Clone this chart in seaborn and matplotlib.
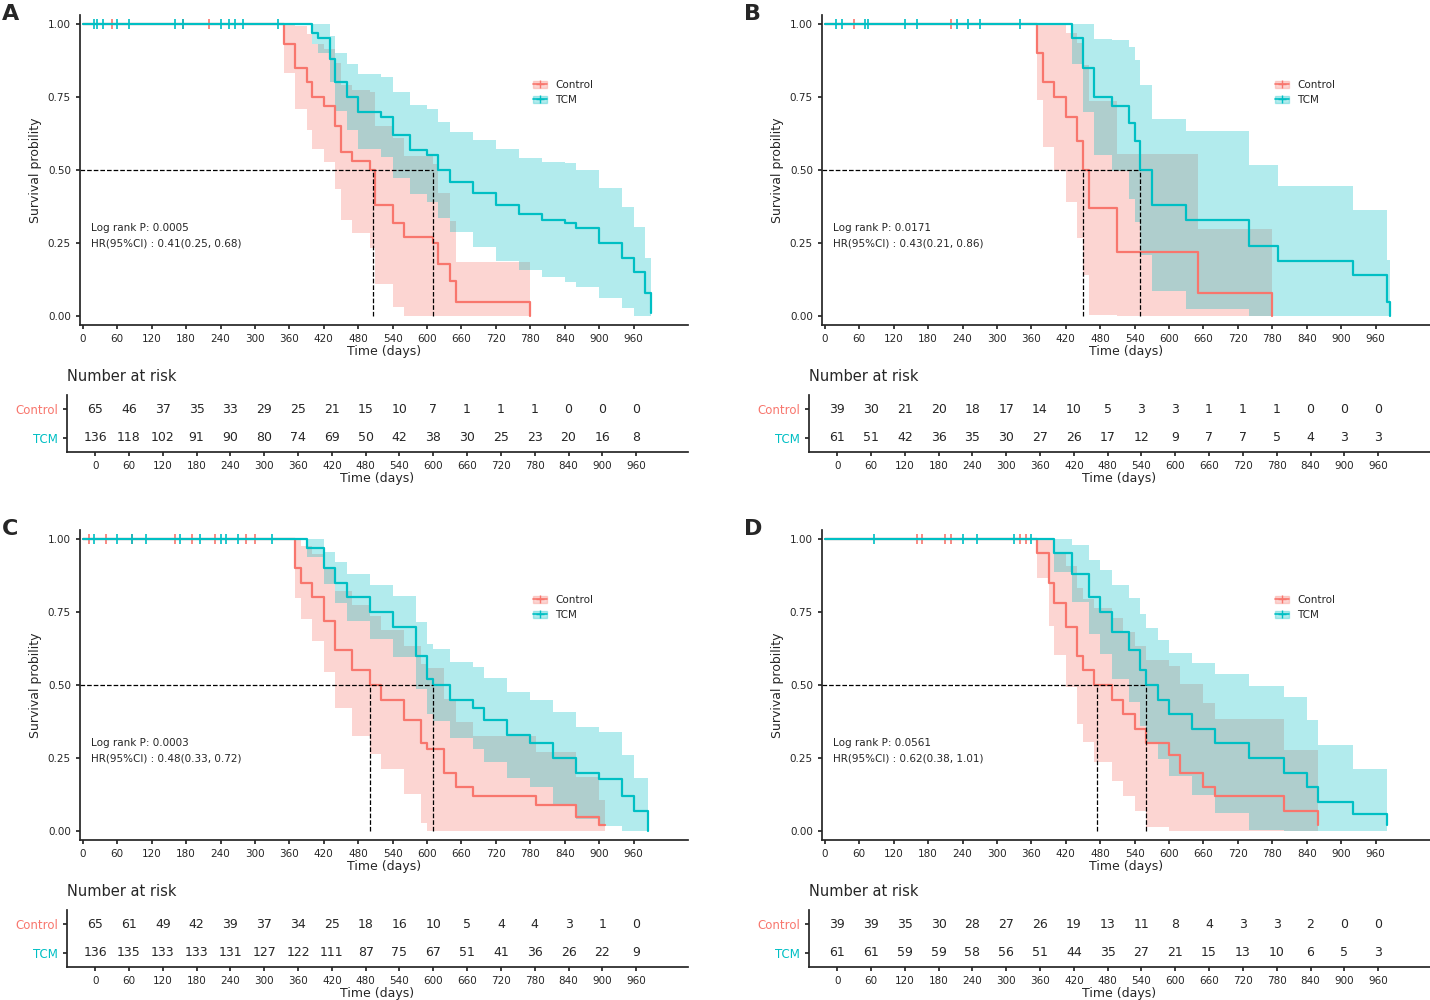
import numpy as np
import pandas as pd
import matplotlib
matplotlib.use("Agg")
import matplotlib.pyplot as plt
import seaborn as sns
from matplotlib.lines import Line2D
from matplotlib.patches import Patch

RED = "#F8766D"
TEAL = "#00BFC4"

risk_times = list(range(0, 961, 60))

# ---- panel data: step times and survival after each step ----
a_ctrl_t = [0, 350, 370, 390, 400, 420, 440, 450, 470, 500, 510, 540, 560, 610, 620, 640, 650, 780]
a_ctrl_s = [1, .93, .85, .80, .75, .72, .65, .56, .53, .50, .38, .32, .27, .25, .18, .12, .05, .00]
a_tcm_t = [0, 400, 410, 430, 440, 460, 480, 520, 540, 570, 600, 620, 640, 680, 720, 760, 800, 840, 860, 900, 940, 960, 980, 990]
a_tcm_s = [1, .97, .95, .88, .80, .75, .70, .68, .62, .57, .55, .50, .46, .42, .38, .35, .33, .32, .30, .25, .20, .15, .08, .01]
a_ctrl_cens = [50, 175, 220]
a_tcm_cens = [20, 25, 35, 60, 80, 160, 175, 240, 255, 265, 280, 340]
a_ctrl_risk = [65, 46, 37, 35, 33, 29, 25, 21, 15, 10, 7, 1, 1, 1, 0, 0, 0]
a_tcm_risk = [136, 118, 102, 91, 90, 80, 74, 69, 50, 42, 38, 30, 25, 23, 20, 16, 8]
a_med = (505, 610)
a_txt = ("Log rank P: 0.0005", "HR(95%CI) : 0.41(0.25, 0.68)")

b_ctrl_t = [0, 370, 380, 400, 420, 440, 450, 460, 510, 650, 780]
b_ctrl_s = [1, .90, .80, .75, .68, .60, .50, .37, .22, .08, .00]
b_tcm_t = [0, 430, 450, 470, 500, 530, 540, 550, 570, 630, 740, 790, 920, 980, 985]
b_tcm_s = [1, .95, .85, .75, .72, .66, .60, .50, .38, .33, .24, .19, .14, .05, .00]
b_ctrl_cens = [50, 220]
b_tcm_cens = [20, 30, 70, 75, 140, 160, 230, 250, 270, 340]
b_ctrl_risk = [39, 30, 21, 20, 18, 17, 14, 10, 5, 3, 3, 1, 1, 1, 0, 0, 0]
b_tcm_risk = [61, 51, 42, 36, 35, 30, 27, 26, 17, 12, 9, 7, 7, 5, 4, 3, 3]
b_med = (450, 550)
b_txt = ("Log rank P: 0.0171", "HR(95%CI) : 0.43(0.21, 0.86)")

c_ctrl_t = [0, 370, 380, 400, 420, 440, 470, 500, 520, 560, 590, 600, 630, 650, 680, 790, 860, 900, 910]
c_ctrl_s = [1, .90, .85, .80, .72, .62, .55, .50, .45, .38, .30, .28, .20, .15, .12, .09, .05, .02, .02]
c_tcm_t = [0, 390, 420, 440, 460, 500, 540, 580, 600, 610, 640, 680, 700, 740, 780, 820, 860, 900, 940, 960, 985]
c_tcm_s = [1, .97, .90, .85, .80, .75, .70, .60, .52, .50, .45, .42, .38, .33, .30, .25, .20, .18, .12, .07, .00]
c_ctrl_cens = [10, 40, 85, 160, 190, 230, 285, 300]
c_tcm_cens = [20, 60, 85, 110, 170, 205, 240, 250, 270, 330]
c_ctrl_risk = [65, 61, 49, 42, 39, 37, 34, 25, 18, 16, 10, 5, 4, 4, 3, 1, 0]
c_tcm_risk = [136, 135, 133, 133, 131, 127, 122, 111, 87, 75, 67, 51, 41, 36, 26, 22, 9]
c_med = (500, 610)
c_txt = ("Log rank P: 0.0003", "HR(95%CI) : 0.48(0.33, 0.72)")

d_ctrl_t = [0, 370, 390, 400, 420, 440, 450, 470, 500, 520, 540, 560, 600, 620, 660, 680, 800, 860]
d_ctrl_s = [1, .95, .85, .78, .70, .60, .55, .50, .45, .40, .35, .30, .26, .20, .15, .12, .07, .02]
d_tcm_t = [0, 400, 430, 460, 480, 500, 530, 550, 560, 580, 600, 640, 680, 740, 800, 840, 860, 920, 980]
d_tcm_s = [1, .95, .88, .80, .75, .68, .62, .55, .50, .45, .40, .35, .30, .25, .20, .15, .10, .06, .02]
d_ctrl_cens = [160, 170, 210, 220, 340, 350]
d_tcm_cens = [85, 240, 265, 330, 360]
d_ctrl_risk = [39, 39, 35, 30, 28, 27, 26, 19, 13, 11, 8, 4, 3, 3, 2, 0, 0]
d_tcm_risk = [61, 61, 59, 59, 58, 56, 51, 44, 35, 27, 21, 15, 13, 10, 6, 5, 3]
d_med = (475, 560)
d_txt = ("Log rank P: 0.0561", "HR(95%CI) : 0.62(0.38, 1.01)")

panels = [
    ("A", 0.0, 0.0, a_ctrl_t, a_ctrl_s, a_tcm_t, a_tcm_s, a_ctrl_cens, a_tcm_cens, a_ctrl_risk, a_tcm_risk, a_med, a_txt),
    ("B", 742, 0.0, b_ctrl_t, b_ctrl_s, b_tcm_t, b_tcm_s, b_ctrl_cens, b_tcm_cens, b_ctrl_risk, b_tcm_risk, b_med, b_txt),
    ("C", 0.0, 515, c_ctrl_t, c_ctrl_s, c_tcm_t, c_tcm_s, c_ctrl_cens, c_tcm_cens, c_ctrl_risk, c_tcm_risk, c_med, c_txt),
    ("D", 742, 515, d_ctrl_t, d_ctrl_s, d_tcm_t, d_tcm_s, d_ctrl_cens, d_tcm_cens, d_ctrl_risk, d_tcm_risk, d_med, d_txt),
]

sns.set_theme(style="ticks")
plt.rcParams["font.family"] = ["DejaVu Sans"]
fig = plt.figure(figsize=(14.3, 10), dpi=100)
W, H = 1430, 1000


def band(t, s, risk, n0):
    # approximate 95% CI from survival and number at risk
    n = np.maximum(np.interp(t, risk_times, risk), 2)
    n = np.maximum(n, n0 * 0.15)
    s = np.array(s)
    se = 1.96 * np.sqrt(s * (1 - s) / n)
    return np.clip(s - se, 0, 1), np.clip(s + se, 0, 1)


for (lab, dx, dy, ct, cs, tt, ts, cc, tc, cr, tr, med, txt) in panels:
    ax = fig.add_axes([(80 + dx) / W, 1 - (325 + dy) / H, 608 / W, 310 / H])
    for t, s, cens, risk, col in [(ct, cs, cc, cr, RED), (tt, ts, tc, tr, TEAL)]:
        lo, hi = band(t, s, risk, risk[0])
        ax.fill_between(t, lo, hi, step="post", color=col, alpha=0.3, lw=0)
        df = pd.DataFrame({"time": t, "surv": s})
        sns.lineplot(data=df, x="time", y="surv", ax=ax, color=col, lw=1.6,
                     drawstyle="steps-post", estimator=None, sort=False)
        ax.plot(cens, [1.0] * len(cens), ls="none", marker="+", color=col, ms=7, mew=1.2)
    ax.plot([-5, med[1]], [0.5, 0.5], ls="--", color="black", lw=0.9)
    for m in med:
        ax.plot([m, m], [0, 0.5], ls="--", color="black", lw=0.9)
    ax.text(15, 0.30, txt[0], fontsize=7.5, va="center")
    ax.text(15, 0.25, txt[1], fontsize=7.5, va="center")
    ax.set_xlim(-5, 1055)
    ax.set_ylim(-0.03, 1.03)
    ax.set_xticks(risk_times)
    ax.set_yticks([0, 0.25, 0.5, 0.75, 1.0])
    ax.set_yticklabels(["0.00", "0.25", "0.50", "0.75", "1.00"])
    ax.tick_params(labelsize=7.5, length=3)
    ax.set_xlabel("Time (days)", fontsize=9, labelpad=1)
    ax.set_ylabel("Survival probility", fontsize=9)
    sns.despine(ax=ax)
    handles = [(Patch(color=RED, alpha=0.3), Line2D([], [], color=RED, marker="+", lw=1.2)),
               (Patch(color=TEAL, alpha=0.3), Line2D([], [], color=TEAL, marker="+", lw=1.2))]
    ax.legend(handles, ["Control", "TCM"], loc="center left", bbox_to_anchor=(0.73, 0.75),
              frameon=False, fontsize=7.5, handlelength=1.3)
    fig.text((2 + dx) / W, 1 - (14 + dy) / H, lab, fontsize=16, fontweight="bold", va="center")

    rax = fig.add_axes([(67 + dx) / W, 1 - (452 + dy) / H, 621 / W, 57 / H])
    for risk, y in [(cr, 1), (tr, 0)]:
        for t, n in zip(risk_times, risk):
            rax.text(t, y, str(n), ha="center", va="center", fontsize=9)
    rax.set_xlim(-50, 1052)
    rax.set_ylim(-0.5, 1.5)
    rax.set_xticks(risk_times)
    rax.set_yticks([0, 1])
    rax.set_yticklabels(["TCM", "Control"])
    for tl, col in zip(rax.get_yticklabels(), [TEAL, RED]):
        tl.set_color(col)
    rax.tick_params(labelsize=7.5, length=3)
    rax.tick_params(axis="y", labelsize=8.5)
    rax.set_xlabel("Time (days)", fontsize=9, labelpad=1)
    rax.set_title("Number at risk", loc="left", fontsize=10.5, x=0, pad=10)
    sns.despine(ax=rax)

fig.savefig("out.png", dpi=100)
